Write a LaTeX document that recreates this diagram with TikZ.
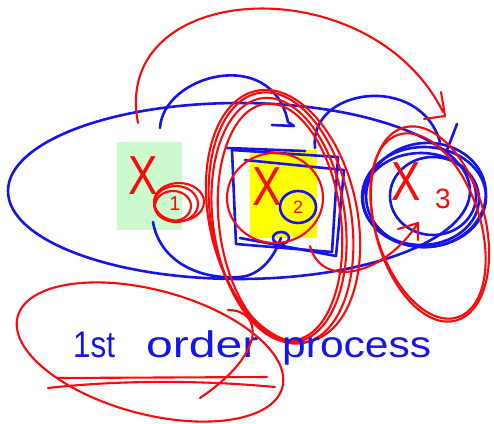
\documentclass[tikz,border=0pt]{standalone}
\usepackage{fontspec}
\setmainfont{Liberation Sans}
\definecolor{pen blue}{RGB}{20,20,235}
\definecolor{pen red}{RGB}{250,10,10}
\definecolor{pale green}{RGB}{204,250,206}
\definecolor{marker yellow}{RGB}{255,255,0}
\begin{document}
\begin{tikzpicture}[x=1pt,y=-1pt,
  blu/.style={draw=pen blue, line width=2.6pt, line cap=round, line join=round},
  rd/.style={draw=pen red, line width=2.1pt, line cap=round, line join=round},
  bigx/.style={text=pen red, inner sep=0pt, font=\fontsize{55}{55}\selectfont},
  subnum/.style={text=pen red, inner sep=0pt},
  words/.style={text=pen blue, inner sep=0pt, anchor=base west, font=\fontsize{37}{37}\selectfont}]
\useasboundingbox (0,0) rectangle (494,423);
\fill[white] (0,0) rectangle (494,423);

% highlighted boxes
\fill[pale green] (117,142) rectangle (182,230);
\fill[marker yellow] (250,150) rectangle (317,238);

% big blue ellipse
\draw[blu] (239,191) ellipse [x radius=231, y radius=88];

% blue boxes around X2
\draw[blu] (232,150) -- (338,157) -- (332,252) -- (236,244) -- cycle;
\draw[blu] (245,160) -- (344,170) -- (336,256) -- (240,238);
\draw[blu] (227,148) -- (305,151);

% blue circles around X3
\draw[blu] (424,197) ellipse [x radius=62, y radius=50];
\draw[blu] (421,199) ellipse [x radius=58, y radius=46];
\draw[blu, rotate around={6:(426,195)}] (426,195) ellipse [x radius=60, y radius=52];
\draw[blu] (433,196) ellipse [x radius=43, y radius=39];

% labels
\node[bigx] (x1) at (143,176) {\scalebox{0.8}[1]{X}};
\node[subnum, font=\fontsize{20}{20}\selectfont] (n1) at (175,204) {1};
\node[bigx] (x2) at (267,187) {\scalebox{0.8}[1]{X}};
\node[subnum, font=\fontsize{18}{18}\selectfont] (n2) at (298,207) {2};
\node[bigx] (x3) at (406,182) {\scalebox{0.8}[1]{X}};
\node[subnum, font=\fontsize{28}{28}\selectfont] (n3) at (443,199) {3};

% blue circle round 2 and small loop
\draw[blu] (n2) ellipse [x radius=18, y radius=16];
\coordinate (loop) at (281,238);
\draw[blu] (loop) ellipse [x radius=8, y radius=6];

% blue curve from X1 to the loop
\coordinate (b1s) at (153,222);
\draw[blu] (b1s) .. controls (160,262) and (200,280) .. (240,277)
  .. controls (262,275) and (275,255) .. (loop);

% blue arcs on top
\coordinate (a1s) at (160,128);
\coordinate (a1e) at (288,122);
\draw[blu] (a1s) .. controls (163,75) and (272,45) .. (a1e) -- (294,126) -- (272,125);
\coordinate (a2s) at (315,148);
\coordinate (a2e) at (440,142);
\draw[blu] (a2s) .. controls (308,88) and (420,72) .. (a2e);
\draw[blu] (457,124) -- (447,150);

% red big arrow
\coordinate (r1s) at (138,123);
\coordinate (r1e) at (443,112);
\draw[rd] (r1s) .. controls (110,-20) and (370,-35) .. (r1e);
\draw[rd] (441,92) -- (445,116) -- (424,119);

% red ellipses around X2
\draw[rd, rotate around={10:(281,218)}] (281,218) ellipse [x radius=70, y radius=127];
\draw[rd, rotate around={8:(279,220)}] (279,220) ellipse [x radius=66, y radius=123];
\draw[rd, rotate around={12:(283,216)}] (283,216) ellipse [x radius=74, y radius=128];
\draw[rd, rotate around={7:(280,222)}] (280,222) ellipse [x radius=61, y radius=119];
\draw[rd] (275,198) ellipse [x radius=48, y radius=45];

% red loops around 1
\draw[rd] (176,204) ellipse [x radius=22, y radius=18];
\draw[rd] (173,206) ellipse [x radius=18, y radius=15];
\draw[rd] (179,202) ellipse [x radius=25, y radius=19];

% red ellipses around X3
\draw[rd, rotate around={15:(430,224)}] (430,224) ellipse [x radius=55, y radius=100];
\draw[rd, rotate around={18:(428,226)}] (428,226) ellipse [x radius=52, y radius=96];

% red arrow X2 -> X3
\coordinate (r2s) at (310,246);
\coordinate (r2e) at (418,223);
\draw[rd] (r2s) .. controls (322,290) and (385,275) .. (r2e);
\draw[rd] (398,229) -- (r2e) -- (418,240);

% text
\node[words] (w1) at (73,357) {\scalebox{0.85}[1]{1st}};
\node[words] (w2) at (146,357) {\scalebox{1.3}[1]{order}};
\node[words] (w3) at (282,357) {\scalebox{1.15}[1]{process}};

% red underline and ellipse round the first words
\draw[rd] (57,378) -- (267,377);
\draw[rd] (48,388) .. controls (120,380) and (200,380) .. (275,387);
\draw[rd, rotate around={-15:(150,352)}] (150,352) ellipse [x radius=137, y radius=62];
\draw[rd] (228,310) .. controls (262,310) and (268,352) .. (200,398);
\end{tikzpicture}
\end{document}
